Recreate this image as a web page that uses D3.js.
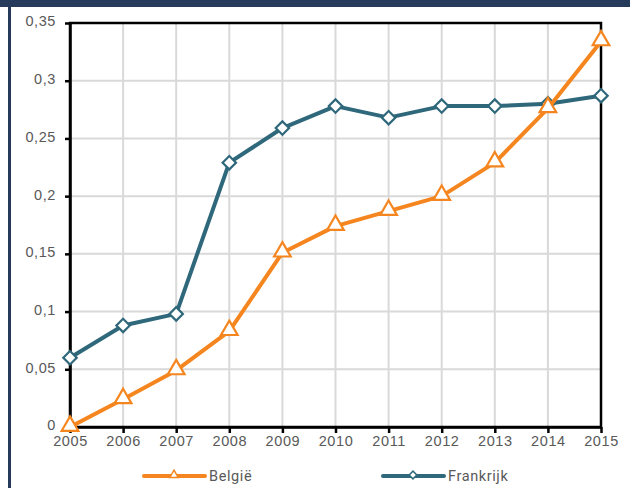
<!DOCTYPE html>
<html>
<head>
<meta charset="utf-8">
<script src="https://cdn.jsdelivr.net/npm/d3@7"></script>
<style>
    body { margin: 0; background: #fff; }
    svg { display: block; font-family: Roboto, "Liberation Sans", sans-serif; }
    .tick text { fill: #595959; font-size: 14.5px; letter-spacing: 0.6px; }
</style>
</head>
<body>
<svg id="chart" width="630" height="488"></svg>
<script>
"use strict";

var years = [2005, 2006, 2007, 2008, 2009, 2010, 2011, 2012, 2013, 2014, 2015];
var belgie = [0, 0.024, 0.049, 0.083, 0.151, 0.174, 0.187, 0.2, 0.229, 0.276, 0.334];
var frankrijk = [0.06, 0.088, 0.098, 0.229, 0.259, 0.278, 0.268, 0.278, 0.278, 0.28, 0.287];
var yTicks = [0, 0.05, 0.1, 0.15, 0.2, 0.25, 0.3, 0.35];

var series = [
    {name: 'België', values: belgie, color: '#f5861f', marker: 'triangle'},
    {name: 'Frankrijk', values: frankrijk, color: '#2f687b', marker: 'diamond'}
];

var svg = d3.select('#chart');
var bounds = {left: 70, top: 23, right: 601, bottom: 427};

// frame decoration
svg.append('rect').attr('x', 0).attr('y', 0).attr('width', 630).attr('height', 7).attr('fill', '#263a5b');
svg.append('rect').attr('x', 8).attr('y', 0).attr('width', 3).attr('height', 488).attr('fill', '#263a5b');

var x = d3.scaleLinear().domain([2005, 2015]).range([bounds.left, bounds.right]);
var y = d3.scaleLinear().domain([0, 0.35]).range([bounds.bottom, bounds.top]);

var fmt = function(d) { return d === 0 ? '0' : String(d).replace('.', ','); };

// marker shapes: d3 diamond is too tall, use a rotated square instead
function markerPath(kind, size) {
    if (kind === 'triangle') {
        return d3.symbol().type(d3.symbolTriangle).size(size)();
    }
    return d3.symbol().type(d3.symbolSquare).size(size)();
}
function markerRotate(kind) { return kind === 'diamond' ? ' rotate(45)' : ''; }

// grid
var grid = svg.append('g').attr('stroke', '#d9d9d9').attr('stroke-width', 2);
grid.selectAll('.gx').data(years).enter().append('line')
    .attr('x1', function(d) { return x(d); }).attr('x2', function(d) { return x(d); })
    .attr('y1', bounds.top).attr('y2', bounds.bottom);
grid.selectAll('.gy').data(yTicks).enter().append('line')
    .attr('y1', function(d) { return y(d); }).attr('y2', function(d) { return y(d); })
    .attr('x1', bounds.left).attr('x2', bounds.right);

// frame
svg.append('rect')
    .attr('x', bounds.left).attr('y', bounds.top)
    .attr('width', bounds.right - bounds.left).attr('height', bounds.bottom - bounds.top)
    .attr('fill', 'none').attr('stroke', '#000').attr('stroke-width', 2.5);

var yAxis = svg.append('g')
    .attr('transform', 'translate(' + bounds.left + ',0)')
    .call(d3.axisLeft(y).tickValues(yTicks).tickFormat(fmt).tickSize(5).tickSizeOuter(0).tickPadding(9));
var xAxis = svg.append('g')
    .attr('transform', 'translate(0,' + bounds.bottom + ')')
    .call(d3.axisBottom(x).tickValues(years).tickFormat(d3.format('d')).tickSize(6).tickSizeOuter(0).tickPadding(3));

[yAxis, xAxis].forEach(function(axis) {
    axis.select('.domain').attr('stroke', '#000').attr('stroke-width', 2.5);
    axis.selectAll('.tick line').attr('stroke', '#000').attr('stroke-width', 2.5);
});
yAxis.selectAll('.tick text').attr('dy', '0.2em');

var line = d3.line()
    .x(function(d, i) { return x(years[i]); })
    .y(function(d) { return y(d); });

// Frankrijk first so the orange line sits on top at the crossing
series.slice().reverse().forEach(function(s) {
    var g = svg.append('g');
    g.append('path').datum(s.values)
        .attr('d', line).attr('fill', 'none')
        .attr('stroke', s.color).attr('stroke-width', 4).attr('stroke-linejoin', 'round');
    g.selectAll('.marker').data(s.values).enter().append('path')
        .attr('d', markerPath(s.marker, s.marker === 'triangle' ? 120 : 90))
        .attr('transform', function(d, i) {
            var dy = s.marker === 'triangle' ? -1 : 0;
            return 'translate(' + x(years[i]) + ',' + (y(d) + dy) + ')' + markerRotate(s.marker);
        })
        .attr('fill', '#fff').attr('stroke', s.color).attr('stroke-width', 2.2);
});

// legend
var legendPos = [{x: 144, text: 209}, {x: 383, text: 448}];
var legend = svg.append('g');
series.forEach(function(s, i) {
    var lx = legendPos[i].x, ly = 476;
    legend.append('line')
        .attr('x1', lx).attr('x2', lx + 61).attr('y1', ly).attr('y2', ly)
        .attr('stroke', s.color).attr('stroke-width', 4).attr('stroke-linecap', 'round');
    legend.append('path')
        .attr('d', markerPath(s.marker, 30))
        .attr('transform', 'translate(' + (lx + 30) + ',' + (ly - 1) + ')' + markerRotate(s.marker))
        .attr('fill', '#fff').attr('stroke', s.color).attr('stroke-width', 1.5);
    legend.append('text')
        .attr('x', legendPos[i].text).attr('y', ly + 5)
        .attr('fill', '#595959').attr('font-size', 14.5).attr('letter-spacing', 0.6)
        .text(s.name);
});
</script>
</body>
</html>
